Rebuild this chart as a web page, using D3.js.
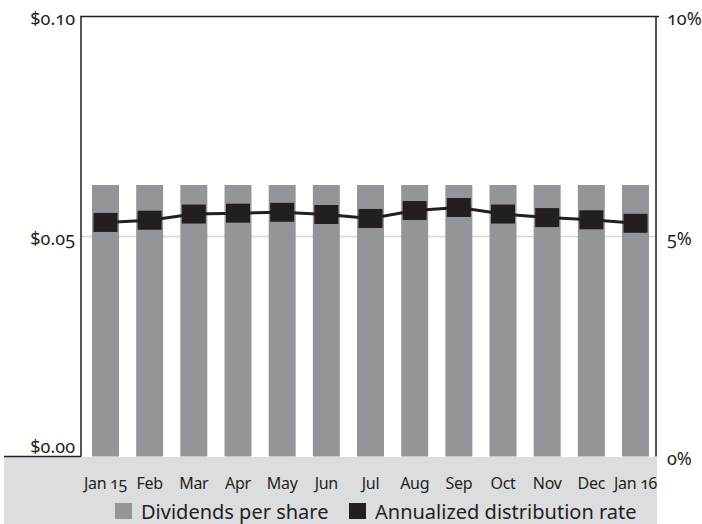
<!DOCTYPE html>
<html>
<head>
<meta charset="utf-8">
<script src="https://cdn.jsdelivr.net/npm/d3@7"></script>
<style>
  body { margin: 0; background: #fff; }
  text { font-family: "Noto Sans", sans-serif; font-variant-numeric: oldstyle-nums; fill: #231f20; }
</style>
</head>
<body>
<div id="chart"></div>
<script>
// data
const months = ['Jan 15', 'Feb', 'Mar', 'Apr', 'May', 'Jun', 'Jul', 'Aug', 'Sep', 'Oct', 'Nov', 'Dec', 'Jan 16']
const dividends = [0.0617, 0.0617, 0.0617, 0.0617, 0.0617, 0.0617, 0.0617, 0.0617, 0.0617, 0.0617, 0.0617, 0.0617, 0.0617]
const rates = [5.32, 5.37, 5.51, 5.53, 5.55, 5.50, 5.41, 5.59, 5.66, 5.51, 5.43, 5.38, 5.30]
const leftTicks = [0, 0.05, 0.10]
const rightTicks = [0, 5, 10]

const width = 702
const height = 524
const plotL = 81, plotR = 656, plotT = 16.5, plotB = 456.5

const svg = d3.select('#chart').append('svg')
  .attr('width', width)
  .attr('height', height)

const x = d3.scaleBand()
  .domain(months)
  .range([81, 660])
  .paddingInner(0.389)
  .paddingOuter(0.249)

const yL = d3.scaleLinear().domain([0, 0.10]).range([plotB, plotT])
const yR = d3.scaleLinear().domain([0, 10]).range([plotB, plotT])

// grey band under the plot
svg.append('rect')
  .attr('x', 4).attr('y', plotB + 0.5)
  .attr('width', 653).attr('height', height - plotB)
  .attr('fill', '#dcdddf')

// gridline at $0.05
svg.append('line')
  .attr('x1', plotL).attr('x2', plotR)
  .attr('y1', yL(0.05)).attr('y2', yL(0.05))
  .attr('stroke', '#d6d6d6').attr('stroke-width', 1.5)

// bars
svg.append('g').selectAll('rect')
  .data(dividends)
  .join('rect')
  .attr('x', (d, i) => x(months[i]))
  .attr('y', d => yL(d))
  .attr('width', x.bandwidth())
  .attr('height', d => yL(0) - yL(d))
  .attr('fill', '#939598')

// frame
const frame = svg.append('g').attr('fill', 'none').attr('stroke', '#231f20').attr('stroke-width', 1.5)
frame.append('path').attr('d', `M${plotL},${plotB}V${plotT}H${plotR + 3}`)
frame.append('path').attr('d', `M${plotR},${plotT}V${plotB}`)
frame.append('path').attr('d', `M4,${plotB}H${plotL}`)

// left axis labels ($0.00 sits above the baseline)
svg.append('g').selectAll('text')
  .data(leftTicks)
  .join('text')
  .attr('x', plotL - 6)
  .attr('y', d => d === 0 ? yL(d) - 4 : yL(d) + 8)
  .attr('text-anchor', 'end')
  .style('font-size', '18px')
  .text(d => '$' + d.toFixed(2))

// right axis labels
svg.append('g').selectAll('text')
  .data(rightTicks)
  .join('text')
  .attr('x', plotR + 11)
  .attr('y', d => yR(d) + 8)
  .style('font-size', '18px')
  .text(d => d + '%')

// month labels
svg.append('g').selectAll('text')
  .data(months)
  .join('text')
  .attr('x', d => x(d) + x.bandwidth() / 2)
  .attr('y', 489)
  .attr('text-anchor', 'middle')
  .style('font-size', '16px')
  .style('letter-spacing', '-0.3px')
  .text(d => d)

// rate line and markers
const line = d3.line()
  .x((d, i) => x(months[i]) + x.bandwidth() / 2)
  .y(d => yR(d))

svg.append('path')
  .datum(rates)
  .attr('d', line)
  .attr('fill', 'none')
  .attr('stroke', '#231f20')
  .attr('stroke-width', 3)

const mw = 24, mh = 19
svg.append('g').selectAll('rect')
  .data(rates)
  .join('rect')
  .attr('x', (d, i) => x(months[i]) + x.bandwidth() / 2 - mw / 2)
  .attr('y', d => yR(d) - mh / 2)
  .attr('width', mw)
  .attr('height', mh)
  .attr('fill', '#231f20')

// legend
const legend = [
  { label: 'Dividends per share', color: '#939598', x: 115 },
  { label: 'Annualized distribution rate', color: '#231f20', x: 349 }
]
const lg = svg.append('g').selectAll('g')
  .data(legend)
  .join('g')
  .attr('transform', d => `translate(${d.x},503)`)
lg.append('rect')
  .attr('width', 17).attr('height', 16)
  .attr('fill', d => d.color)
lg.append('text')
  .attr('x', 26)
  .attr('y', 16)
  .style('font-size', '20px')
  .text(d => d.label)
</script>
</body>
</html>
